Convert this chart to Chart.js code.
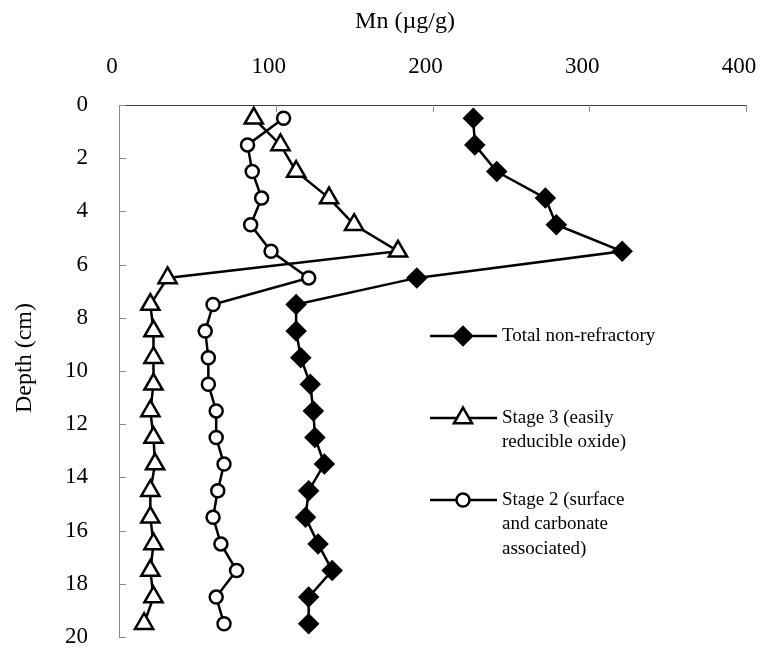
<!DOCTYPE html>
<html>
<head>
<meta charset="utf-8">
<title>Mn depth profile</title>
<script src="https://cdn.jsdelivr.net/npm/chart.js@4.4.1/dist/chart.umd.min.js"></script>
<style>
    html, body { margin: 0; padding: 0; background: #fff; }
    #wrap { position: relative; width: 760px; height: 652px; }
</style>
</head>
<body>
<div id="wrap"><canvas id="mn-chart"></canvas></div>
<script>
// Depth profile of Mn fractions
const depthCm = [0.5, 1.5, 2.5, 3.5, 4.5, 5.5, 6.5, 7.5, 8.5, 9.5, 10.5, 11.5, 12.5, 13.5, 14.5, 15.5, 16.5, 17.5, 18.5, 19.5];
const totalNonRefractory = [226, 227, 241, 272, 279, 321, 190, 113, 113, 116, 122, 124, 125, 131, 121, 119, 127, 136, 121, 121];
const stage3Oxide = [86, 103, 113, 134, 150, 178, 31, 20, 22, 22, 22, 20, 22, 23, 20, 20, 22, 20, 22, 16];
const stage2Carbonate = [105, 82, 85, 91, 84, 97, 121, 60, 55, 57, 57, 62, 62, 67, 63, 60, 65, 75, 62, 67];

const mnTicks = [0, 100, 200, 300, 400];
const depthTicks = [0, 2, 4, 6, 8, 10, 12, 14, 16, 18, 20];

const seriesNames = ['Total non-refractory', 'Stage 3 (easily reducible oxide)', 'Stage 2 (surface and carbonate associated)'];
const legendLines = [
    ['Total non-refractory'],
    ['Stage 3 (easily', 'reducible oxide)'],
    ['Stage 2 (surface', 'and carbonate', 'associated)']
];

const SERIF = '"Liberation Serif", "Times New Roman", serif';

function toPoints(values) {
    return values.map((v, i) => ({ x: v, y: depthCm[i] }));
}

// small tick marks pointing into the plot, like the original
const inwardTicks = {
    id: 'inwardTicks',
    afterDraw(chart) {
        const { ctx, chartArea } = chart;
        const xs = chart.scales.x;
        const ys = chart.scales.y;
        ctx.save();
        ctx.strokeStyle = '#8c8c8c';
        ctx.lineWidth = 1;
        ctx.beginPath();
        xs.ticks.forEach(t => {
            const px = Math.round(xs.getPixelForValue(t.value)) + 0.5;
            ctx.moveTo(px, chartArea.top);
            ctx.lineTo(px, chartArea.top + 7);
        });
        ys.ticks.forEach(t => {
            const py = Math.round(ys.getPixelForValue(t.value)) + 0.5;
            ctx.moveTo(chartArea.left, py);
            ctx.lineTo(chartArea.left + 7, py);
        });
        ctx.stroke();
        ctx.restore();
    }
};

// axis titles, placed where the original has them
const axisTitles = {
    id: 'axisTitles',
    afterDraw(chart) {
        const ctx = chart.ctx;
        ctx.save();
        ctx.fillStyle = '#000';
        ctx.font = '24px ' + SERIF;
        ctx.textAlign = 'center';
        ctx.textBaseline = 'middle';
        ctx.fillText('Mn (\u00b5g/g)', 405, 22);
        ctx.translate(25, 358);
        ctx.rotate(-Math.PI / 2);
        ctx.fillText('Depth (cm)', 0, 0);
        ctx.restore();
    }
};

// legend inside the plot, with wrapped labels
const sideLegend = {
    id: 'sideLegend',
    afterDraw(chart) {
        const ctx = chart.ctx;
        const rowY = [336, 418, 500];
        ctx.save();
        chart.data.datasets.forEach((ds, i) => {
            const y = rowY[i];
            ctx.strokeStyle = ds.borderColor;
            ctx.lineWidth = ds.borderWidth;
            ctx.beginPath();
            ctx.moveTo(430, y);
            ctx.lineTo(497, y);
            ctx.stroke();

            ctx.fillStyle = ds.pointBackgroundColor;
            ctx.strokeStyle = ds.pointBorderColor;
            ctx.lineWidth = ds.pointBorderWidth;
            Chart.helpers.drawPoint(ctx, {
                pointStyle: ds.pointStyle,
                radius: ds.pointRadius,
                borderWidth: ds.pointBorderWidth,
                rotation: 0
            }, 463, y);

            ctx.fillStyle = '#000';
            ctx.font = '19px ' + SERIF;
            ctx.textAlign = 'left';
            ctx.textBaseline = 'middle';
            legendLines[i].forEach((line, j) => ctx.fillText(line, 502, y + j * 24.5));
        });
        ctx.restore();
    }
};

function seriesStyle(style, radius, fill) {
    return {
        showLine: true,
        borderColor: '#000',
        borderWidth: 2.5,
        pointStyle: style,
        pointRadius: radius,
        pointHoverRadius: radius,
        pointBackgroundColor: fill,
        pointBorderColor: '#000',
        pointBorderWidth: 2.5
    };
}

new Chart(document.getElementById('mn-chart'), {
    type: 'scatter',
    data: {
        datasets: [
            { label: seriesNames[0], data: toPoints(totalNonRefractory), ...seriesStyle('rectRot', 9, '#000') },
            { label: seriesNames[1], data: toPoints(stage3Oxide), ...seriesStyle('triangle', 10.5, '#fff') },
            { label: seriesNames[2], data: toPoints(stage2Carbonate), ...seriesStyle('circle', 6.5, '#fff') }
        ]
    },
    options: {
        responsive: true,
        maintainAspectRatio: false,
        devicePixelRatio: 1,
        animation: false,
        layout: { padding: { top: 0, left: 0, right: 14, bottom: 15 } },
        plugins: {
            legend: { display: false },
            tooltip: { enabled: false }
        },
        scales: {
            x: {
                type: 'linear',
                position: 'top',
                min: mnTicks[0],
                max: mnTicks[mnTicks.length - 1],
                afterBuildTicks: s => { s.ticks = mnTicks.map(v => ({ value: v })); },
                afterFit: s => { s.height = 105; s.paddingLeft = 0; s.paddingRight = 0; },
                grid: { display: true, drawOnChartArea: false, drawTicks: false },
                border: { display: true, color: '#404040', width: 1 },
                ticks: {
                    color: '#000',
                    font: { family: SERIF, size: 23 },
                    padding: 24,
                    labelOffset: -7,
                    maxRotation: 0
                }
            },
            y: {
                type: 'linear',
                reverse: true,
                min: depthTicks[0],
                max: depthTicks[depthTicks.length - 1],
                afterBuildTicks: s => { s.ticks = depthTicks.map(v => ({ value: v })); },
                afterFit: s => { s.width = 119; s.paddingTop = 0; s.paddingBottom = 0; },
                grid: { display: true, drawOnChartArea: false, drawTicks: false },
                border: { display: true, color: '#8c8c8c', width: 1 },
                ticks: {
                    color: '#000',
                    font: { family: SERIF, size: 23 },
                    padding: 31
                }
            }
        }
    },
    plugins: [inwardTicks, axisTitles, sideLegend]
});
</script>
</body>
</html>
